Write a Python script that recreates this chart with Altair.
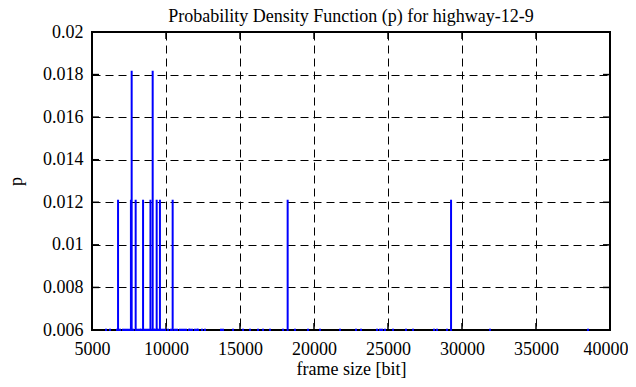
import altair as alt
import pandas as pd

# frame sizes [bit] and their probabilities
tall_sizes = [7680, 9100]
tall_p = 0.01818
medium_sizes = [6760, 7630, 7950, 8450, 8950, 9370, 9590, 10450, 18220, 29260]
medium_p = 0.01212
small_sizes = [5946, 6216, 6689, 6892, 7095, 7230, 7365, 7500, 7770, 7973,
               8108, 8243, 8311, 8514, 8649, 8784, 8919, 9054, 9189, 9257,
               9392, 9459, 9662, 9797, 9932, 10135, 10338, 10608, 10743, 10946,
               11081, 11216, 11351, 11554, 11622, 11757, 11960, 12095, 12162, 12432,
               12635, 13716, 13851, 14527, 15203, 15676, 16216, 16554, 17027, 17905,
               18716, 19595, 20406, 21757, 22838, 23176, 24257, 24460, 24595, 24798,
               25338, 26216, 26689, 28108, 28311, 28986, 31892, 38514]
small_p = 0.00606

x_ticks = [5000, 10000, 15000, 20000, 25000, 30000, 35000, 40000]
y_ticks = [0.006, 0.008, 0.01, 0.012, 0.014, 0.016, 0.018, 0.02]

W, H = 518, 298
FONT = "Liberation Serif"

rows = ([{"frame_size": s, "p": small_p} for s in small_sizes]
        + [{"frame_size": s, "p": medium_p} for s in medium_sizes]
        + [{"frame_size": s, "p": tall_p} for s in tall_sizes])
df = pd.DataFrame(rows)

xscale = alt.Scale(domain=[5000, 40000], nice=False, zero=False)
yscale = alt.Scale(domain=[0.006, 0.02], nice=False, zero=False)

xaxis = alt.Axis(values=x_ticks, format="d", title="frame size [bit]",
                 grid=True, ticks=False, domain=False, labelPadding=10,
                 labelFlush=True, labelFlushOffset=18,
                 titleY=44, titleBaseline="alphabetic")
yaxis = alt.Axis(values=y_ticks, format="~g", title="p",
                 grid=True, ticks=False, domain=False, labelPadding=9,
                 labelFlush=False, titleX=-76, titleBaseline="middle")

impulses = alt.Chart(df).mark_rule(color="#0000ff", strokeWidth=2, clip=False).encode(
    x=alt.X("frame_size:Q", scale=xscale, axis=xaxis),
    y=alt.Y("p:Q", scale=yscale, axis=yaxis),
    y2=alt.value(H + 1),
)

xt = pd.DataFrame({"frame_size": x_ticks})
yt = pd.DataFrame({"p": y_ticks})
TL = 7
tick_style = dict(color="black", strokeWidth=1.5)
xt_bottom = alt.Chart(xt).mark_rule(**tick_style).encode(
    x=alt.X("frame_size:Q", scale=xscale, axis=xaxis), y=alt.value(H), y2=alt.value(H - TL))
xt_top = alt.Chart(xt).mark_rule(**tick_style).encode(
    x=alt.X("frame_size:Q", scale=xscale, axis=xaxis), y=alt.value(0), y2=alt.value(TL))
yt_left = alt.Chart(yt).mark_rule(**tick_style).encode(
    y=alt.Y("p:Q", scale=yscale, axis=yaxis), x=alt.value(0), x2=alt.value(TL))
yt_right = alt.Chart(yt).mark_rule(**tick_style).encode(
    y=alt.Y("p:Q", scale=yscale, axis=yaxis), x=alt.value(W), x2=alt.value(W - TL))

chart = alt.layer(xt_bottom, xt_top, yt_left, yt_right, impulses).properties(
    width=W, height=H,
    background="white",
    autosize=alt.AutoSizeParams(type="none"),
    padding={"left": 84, "top": 24, "right": 18, "bottom": 49},
    title=alt.Title("Probability Density Function (p) for highway-12-9",
                    anchor="middle", offset=6, dy=9, fontSize=18, font=FONT,
                    fontWeight="normal", color="black"),
).configure_view(stroke="black", strokeWidth=2).configure_axis(
    labelFont=FONT, labelFontSize=18, labelColor="black",
    titleFont=FONT, titleFontSize=18, titleColor="black", titleFontWeight="normal",
    gridColor="black", gridDash=[8, 5], gridWidth=1, gridOpacity=1,
)

chart.save("out.html", embed_options={"renderer": "svg", "actions": False})
